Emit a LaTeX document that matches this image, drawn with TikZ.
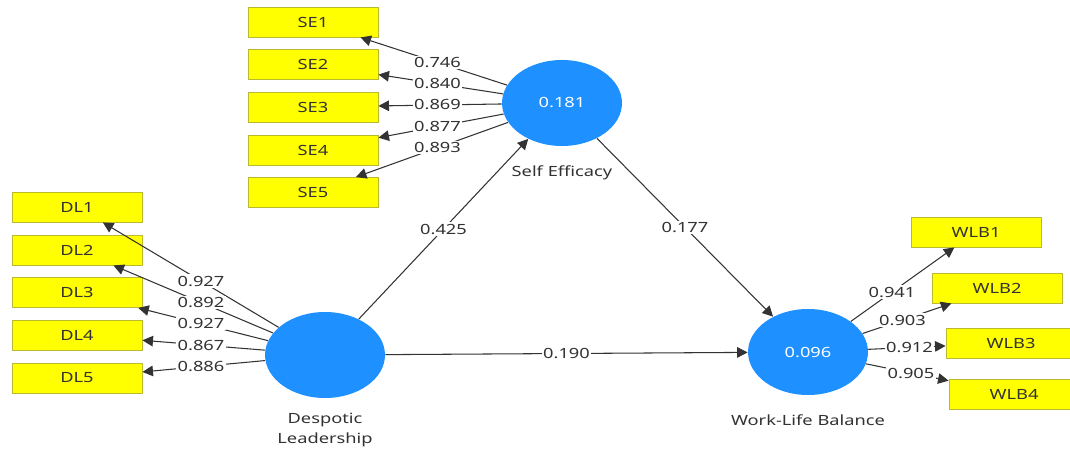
\documentclass[tikz,border=0pt]{standalone}
\usepackage{fontspec}
\setmainfont[FakeStretch=1.3]{Noto Sans}
\usetikzlibrary{arrows.meta,shapes.geometric,calc}

\definecolor{indfill}{RGB}{255,255,0}
\definecolor{inddraw}{RGB}{185,185,50}
\definecolor{latfill}{RGB}{30,144,255}
\definecolor{txtgray}{RGB}{50,50,50}

\tikzset{
  ind/.style={draw=inddraw,fill=indfill,line width=0.5pt,minimum width=2.6cm,
    minimum height=0.6cm,inner sep=0pt,text=txtgray},
  lat/.style={ellipse,fill=latfill,minimum width=2.4cm,minimum height=1.72cm,
    inner sep=0pt,text=white},
  arc/.style={draw=black!80,line width=0.6pt,-{Triangle[length=6pt,width=6pt]}},
  lbl/.style={fill=white,inner sep=0.8pt,text=txtgray},
  latlbl/.style={text=txtgray,align=center}
}

\begin{document}
\begin{tikzpicture}[x=0.02cm,y=-0.02cm,every node/.style={font=\fontsize{8}{11}\selectfont}]
  \clip (0,0) rectangle (1070,453);

  % latent variables
  \node[lat] (se) at (562,103) {0.181};
  \node[lat] (dl) at (325,355) {};
  \node[lat] (wlb) at (808,352) {0.096};
  \node[latlbl] (setext) at (562,173) {Self Efficacy};
  \node[latlbl] (dltext) at (325,430) {Despotic\\Leadership};
  \node[latlbl] (wlbtext) at (808,420) {Work-Life Balance};

  % indicators
  \foreach \i/\y in {1/22,2/64.5,3/107,4/150,5/192.5}
    \node[ind] (se\i) at (313,\y) {SE\i};
  \foreach \i/\y in {1/207,2/250,3/292.5,4/335,5/378}
    \node[ind] (dl\i) at (77,\y) {DL\i};
  \foreach \i/\x/\y in {1/976/232,2/997/288,3/1011/343,4/1014/394}
    \node[ind] (wlb\i) at (\x,\y) {WLB\i};

  % outer loadings
  \foreach \i/\v in {1/0.746,2/0.840,3/0.869,4/0.877,5/0.893}
    \draw[arc] (se) -- (se\i) node[lbl] at ($(se)!0.5!(se\i)$) {\v};
  \foreach \i/\v in {1/0.927,2/0.892,3/0.927,4/0.867,5/0.886}
    \draw[arc] (dl) -- (dl\i) node[lbl] at ($(dl)!0.5!(dl\i)$) {\v};
  \foreach \i/\v in {1/0.941,2/0.903,3/0.912,4/0.905}
    \draw[arc] (wlb) -- (wlb\i) node[lbl] at ($(wlb)!0.5!(wlb\i)$) {\v};

  % structural paths
  \draw[arc] (dl) -- (se) node[lbl] at ($(dl)!0.5!(se)$) {0.425};
  \draw[arc] (se) -- (wlb) node[lbl] at ($(se)!0.5!(wlb)$) {0.177};
  \draw[arc] (dl) -- (wlb) node[lbl] at ($(dl)!0.5!(wlb)$) {0.190};
\end{tikzpicture}
\end{document}
